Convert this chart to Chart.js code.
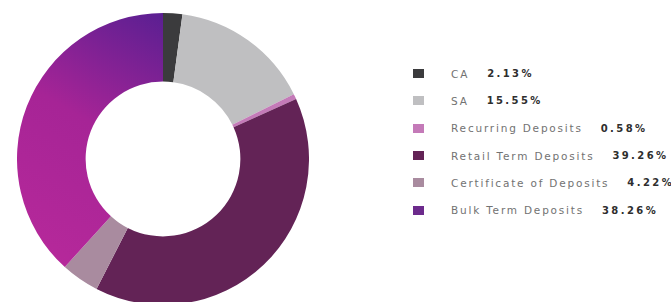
<!DOCTYPE html>
<html>
<head>
<meta charset="utf-8">
<script src="https://cdn.jsdelivr.net/npm/chart.js@4/dist/chart.umd.min.js"></script>
<style>
    body { margin: 0; background: #fff; width: 671px; height: 302px; overflow: hidden; position: relative; font-family: 'DejaVu Sans', sans-serif; }
    #chartBox { position: absolute; left: 17px; top: 13px; width: 292px; height: 292px; }
    #depositLegend { position: absolute; left: 413px; top: 60px; }
    .legend-row { display: flex; align-items: center; height: 27.3px; white-space: nowrap; }
    .legend-box { width: 11px; height: 9px; margin-right: 27px; }
    .legend-label { font-size: 10.5px; color: #727272; letter-spacing: 1.8px; margin-right: 18px; }
    .legend-value { font-size: 10px; color: #2e2e2e; font-weight: bold; letter-spacing: 2.4px; }
</style>
</head>
<body>
<div id="chartBox"><canvas id="depositChart"></canvas></div>
<div id="depositLegend"></div>
<script>
// Deposit mix (%)
const categories = ['CA', 'SA', 'Recurring Deposits', 'Retail Term Deposits', 'Certificate of Deposits', 'Bulk Term Deposits'];
const shares = [2.13, 15.55, 0.58, 39.26, 4.22, 38.26];
const valueLabels = ['2.13%', '15.55%', '0.58%', '39.26%', '4.22%', '38.26%'];
const sliceColors = ['#3b3b3d', '#bfbfc1', '#c47ab8', '#632356', '#a98b9f', '#6c2a8c'];

// Bulk term slice has a magenta -> violet shading in the original
function sliceColor(context) {
    const i = context.dataIndex;
    const area = context.chart.chartArea;
    if (i !== 5 || !area) {
        return sliceColors[i];
    }
    const ctx = context.chart.ctx;
    const grad = ctx.createLinearGradient(area.left, area.bottom - 40, area.left + area.width * 0.5, area.top);
    grad.addColorStop(0, '#b8299b');
    grad.addColorStop(0.55, '#a62496');
    grad.addColorStop(1, '#5a1f92');
    return grad;
}

new Chart(document.getElementById('depositChart').getContext('2d'), {
    type: 'doughnut',
    data: {
        labels: categories,
        datasets: [{
            data: shares,
            backgroundColor: sliceColor,
            borderWidth: 0
        }]
    },
    options: {
        responsive: true,
        maintainAspectRatio: false,
        animation: false,
        cutout: '53%',
        plugins: {
            legend: { display: false },
            tooltip: { enabled: false }
        }
    }
});

// Custom HTML legend
const legendBox = document.getElementById('depositLegend');
categories.forEach((label, i) => {
    const row = document.createElement('div');
    row.className = 'legend-row';

    const box = document.createElement('span');
    box.className = 'legend-box';
    box.style.backgroundColor = sliceColors[i];

    const text = document.createElement('span');
    text.className = 'legend-label';
    text.textContent = label;

    const val = document.createElement('span');
    val.className = 'legend-value';
    val.textContent = valueLabels[i];

    row.appendChild(box);
    row.appendChild(text);
    row.appendChild(val);
    legendBox.appendChild(row);
});
</script>
</body>
</html>
